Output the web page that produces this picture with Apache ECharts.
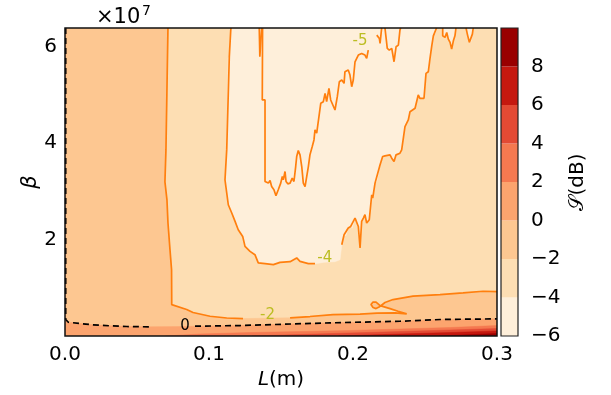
<!DOCTYPE html>
<html><head><meta charset="utf-8">
<script src="https://cdn.jsdelivr.net/npm/echarts@6/dist/echarts.min.js"></script>
<style>html,body{margin:0;padding:0;background:#fff}#c{width:611px;height:395px}</style>
</head><body><div id="c"></div>
<script>
// ---- axes / ticks ----
const X_TICKS = [0, 0.1, 0.2, 0.3];
const Y_TICKS = [2, 4, 6];          // ×1e7
const Y_MAX = 6.39;                 // ×1e7
const CBAR_TICKS = [-6, -4, -2, 0, 2, 4, 6, 8];
const LEVELS = [-6, -4, -2, 0, 2, 4, 6, 8, 10];
const LEVEL_COLORS = ['#feefda', '#fddeb3', '#fdc791', '#fca46e', '#f57950', '#e34a34', '#c5180f', '#990000'];

// ---- contour -2 (L [m], beta [1e7]) ----
const M2_LINE_A = [[0.0715,6.39],[0.0701,3.861],[0.0694,3.199],[0.0708,2.826],[0.0715,2.350],[0.0729,1.791],[0.0740,1.377],[0.0741,0.756],[0.0741,0.652],[0.0750,0.631],[0.0845,0.549],[0.0889,0.487],[0.1007,0.410],[0.1123,0.373],[0.1236,0.362]];
const M2_GAP = [[0.1458,0.373]];
const M2_LINE_B = [[0.1563,0.377],[0.1701,0.404],[0.1861,0.445],[0.2049,0.455],[0.2167,0.476],[0.2292,0.480],[0.2373,0.460],[0.2313,0.513],[0.2257,0.569],[0.2188,0.631],[0.2160,0.704],[0.2139,0.704],[0.2125,0.652],[0.2139,0.590],[0.2160,0.569],[0.2181,0.600],[0.2188,0.631],[0.2222,0.694],[0.2278,0.756],[0.2417,0.828],[0.2604,0.859],[0.2764,0.894],[0.2903,0.928],[0.3,0.921]];

// ---- contour 0 (dashed) ----
const ZERO_LINE_A = [[0.0005,6.39],[0.0005,0.342],[0.0023,0.286],[0.0104,0.259],[0.0194,0.232],[0.0313,0.211],[0.0428,0.197],[0.0590,0.190]];
const ZERO_GAP = [[0.0833,0.197]];
const ZERO_LINE_B = [[0.0903,0.203],[0.1215,0.217],[0.1840,0.273],[0.2326,0.306],[0.2604,0.342],[0.3,0.356]];

// ---- bottom bands (upper boundaries) ----
const BAND_2_4 = [[0.07,0],[0.0938,0.041],[0.1285,0.072],[0.1632,0.093],[0.1979,0.114],[0.2326,0.145],[0.2674,0.176],[0.3,0.217],[0.3,0]];
const BAND_4_6 = [[0.13,0],[0.1632,0.031],[0.1979,0.062],[0.2326,0.093],[0.2674,0.124],[0.3,0.155],[0.3,0]];
const BAND_6_8 = [[0.19,0],[0.2326,0.041],[0.2674,0.072],[0.3,0.104],[0.3,0]];
const BAND_8_10 = [[0.26,0],[0.3,0.052],[0.3,0]];

// ---- contour -4 ----
const M4_LINE_A = [[0.1153,6.39],[0.1151,6.346],[0.1141,5.793],[0.1134,5.766],[0.1123,3.861],[0.1111,3.240],[0.1134,2.723],[0.1158,2.551],[0.1181,2.377],[0.1203,2.205],[0.1234,2.066],[0.1250,1.859],[0.1285,1.756],[0.1319,1.687],[0.1342,1.516],[0.1389,1.501],[0.1447,1.480],[0.1493,1.528],[0.1563,1.542],[0.1609,1.619],[0.1632,1.549],[0.1690,1.501],[0.1736,1.501]];
const M4_GAP = [[0.1806,1.532],[0.1875,1.542],[0.1910,1.584]];
const M4_LINE_B = [[0.1922,1.894],[0.1938,2.101],[0.1951,2.081],[0.1967,2.240],[0.1984,2.273],[0.1995,2.240],[0.2014,2.447],[0.2026,2.427],[0.2037,2.273],[0.2049,1.826],[0.2060,2.377],[0.2072,2.447],[0.2083,2.516],[0.2095,2.344],[0.2113,2.412],[0.2130,2.930],[0.2137,2.861],[0.2153,3.172],[0.2165,3.205],[0.2188,3.551],[0.2206,3.723],[0.2222,3.737],[0.2257,3.758],[0.2269,3.689],[0.2285,3.619],[0.2299,3.758],[0.2326,3.793],[0.2338,3.861],[0.2361,4.344],[0.2384,4.482],[0.2396,4.654],[0.2431,4.725],[0.2453,5.000],[0.2465,4.932],[0.2493,4.932],[0.2507,5.449],[0.2523,5.482],[0.2535,5.766],[0.2547,6.021],[0.2558,6.228],[0.2569,6.263],[0.2580,6.39]];
const M4_V1 = [[0.2623,6.39],[0.2623,6.228],[0.2639,6.195],[0.2651,6.298],[0.2662,6.159],[0.2674,6.091],[0.2685,5.952],[0.2697,6.124],[0.2708,6.228],[0.2715,6.39]];
const M4_V2 = [[0.2785,6.39],[0.2794,6.263],[0.2808,6.091],[0.2818,6.091],[0.2829,6.263],[0.2835,6.39]];

// ---- contour -5 ----
const M5_A = [[0.1349,6.39],[0.1353,5.793],[0.1365,5.793],[0.1366,6.39]];
const M5_B = [[0.1372,6.39],[0.1370,4.897],[0.1389,4.897],[0.1389,3.205],[0.1412,3.172],[0.1424,3.226],[0.1435,3.101],[0.1451,3.033],[0.1465,2.909],[0.1481,3.033],[0.1498,3.172],[0.1509,3.308],[0.1516,3.240],[0.1528,3.412],[0.1535,3.205],[0.1547,3.157],[0.1563,3.172],[0.1578,3.275],[0.1590,3.205],[0.1602,3.516],[0.1609,3.723],[0.1620,3.847],[0.1632,3.758],[0.1644,3.516],[0.1655,3.172],[0.1667,3.101],[0.1678,3.137],[0.1690,3.516],[0.1701,3.758],[0.1717,3.930],[0.1729,4.068],[0.1736,4.275],[0.1748,4.207],[0.1776,4.828],[0.1794,4.861],[0.1806,5.035],[0.1817,4.861],[0.1833,5.139],[0.1845,4.897],[0.1875,4.689],[0.1891,4.965],[0.1905,5.275],[0.1922,5.311],[0.1938,5.242],[0.1944,5.482],[0.1967,5.518],[0.1979,5.414],[0.1991,5.172],[0.2002,5.311],[0.2014,5.689],[0.2037,5.828],[0.2060,5.863],[0.2072,5.897],[0.2083,5.828],[0.2095,5.760],[0.2106,5.932]];
const M5_C = [[0.2165,6.242],[0.2183,6.174],[0.2188,6.070],[0.2199,6.39]];
const M5_D = [[0.2222,6.39],[0.2229,6.207],[0.2238,5.967],[0.2252,5.932],[0.2269,5.967],[0.2285,5.690],[0.2299,6.0],[0.2315,6.035],[0.2326,6.346],[0.2331,6.39]];

// ---- contour labels ----
const CLABEL_POS = [[0.2049,6.118],[0.1804,1.625],[0.1406,0.424],[0.0833,0.197]];
const CLABEL_TEXT = ['-5', '-4', '-2', '0'];
const CLABEL_COLOR = ['#bcbd22', '#bcbd22', '#bcbd22', '#000000'];

// ---- build ----
const FONT = 'DejaVu Sans';
const X_MAX = X_TICKS[X_TICKS.length - 1];
const REGIONS = [
  { pts: [[0, Y_MAX]].concat(M2_LINE_A, M2_GAP, M2_LINE_B, [[X_MAX, 0], [0, 0]]), color: LEVEL_COLORS[2] },
  { pts: [[0, 0]].concat(ZERO_LINE_A, ZERO_GAP, ZERO_LINE_B, [[X_MAX, 0]]), color: LEVEL_COLORS[3] },
  { pts: BAND_2_4, color: LEVEL_COLORS[4] },
  { pts: BAND_4_6, color: LEVEL_COLORS[5] },
  { pts: BAND_6_8, color: LEVEL_COLORS[6] },
  { pts: BAND_8_10, color: LEVEL_COLORS[7] },
  { pts: M4_LINE_A.concat(M4_GAP, M4_LINE_B), color: LEVEL_COLORS[0] },
  { pts: M4_V1, color: LEVEL_COLORS[0] },
  { pts: M4_V2, color: LEVEL_COLORS[0] }
];
const ORANGE = '#ff7f0e';
const LINES = [
  { pts: M2_LINE_A, color: ORANGE, dash: 'solid' },
  { pts: M2_LINE_B, color: ORANGE, dash: 'solid' },
  { pts: M4_LINE_A, color: ORANGE, dash: 'solid' },
  { pts: M4_LINE_B, color: ORANGE, dash: 'solid' },
  { pts: M4_V1, color: ORANGE, dash: 'solid' },
  { pts: M4_V2, color: ORANGE, dash: 'solid' },
  { pts: M5_A, color: ORANGE, dash: 'solid' },
  { pts: M5_B, color: ORANGE, dash: 'solid' },
  { pts: M5_C, color: ORANGE, dash: 'solid' },
  { pts: M5_D, color: ORANGE, dash: 'solid' },
  { pts: ZERO_LINE_A, color: '#000', dash: [6, 4] },
  { pts: ZERO_LINE_B, color: '#000', dash: [6, 4] }
];

const series = [];
REGIONS.forEach(r => {
  series.push({
    type: 'custom', xAxisIndex: 0, yAxisIndex: 0, data: [[0, 0]], clip: true, silent: true, z: 2,
    renderItem: (params, api) => ({
      type: 'polygon',
      shape: { points: r.pts.map(p => api.coord(p)) },
      style: { fill: r.color, stroke: r.color, lineWidth: 0.5 }
    })
  });
});
LINES.forEach(l => {
  series.push({
    type: 'line', xAxisIndex: 0, yAxisIndex: 0, data: l.pts, showSymbol: false, symbol: 'none', silent: true, z: 5,
    lineStyle: { color: l.color, width: 1.7, type: l.dash }
  });
});
// contour labels
series.push({
  type: 'custom', xAxisIndex: 0, yAxisIndex: 0, silent: true, z: 6, clip: false,
  data: CLABEL_POS.map((p, i) => [p[0], p[1], i]),
  renderItem: (params, api) => {
    const i = params.dataIndex;
    const c = api.coord([api.value(0), api.value(1)]);
    return { type: 'text', x: c[0], y: c[1], style: { text: CLABEL_TEXT[i], fill: CLABEL_COLOR[i], font: '15px "' + FONT + '"', align: 'center', verticalAlign: 'middle' } };
  }
});
// plot frame
series.push({
  type: 'custom', xAxisIndex: 0, yAxisIndex: 0, silent: true, z: 10, clip: false, data: [[0, 0]],
  renderItem: (params, api) => {
    const a = api.coord([0, 0]), b = api.coord([X_MAX, Y_MAX]);
    return { type: 'rect', shape: { x: a[0], y: b[1], width: b[0] - a[0], height: a[1] - b[1] }, style: { fill: 'none', stroke: '#111', lineWidth: 1.5 } };
  }
});
// colorbar
series.push({
  type: 'custom', xAxisIndex: 1, yAxisIndex: 1, silent: true, z: 2, clip: false,
  data: LEVEL_COLORS.map((c, i) => [LEVELS[i], LEVELS[i + 1], i]),
  renderItem: (params, api) => {
    const a = api.coord([0, api.value(0)]), b = api.coord([1, api.value(1)]);
    return { type: 'rect', shape: { x: a[0], y: b[1], width: b[0] - a[0], height: a[1] - b[1] }, style: { fill: LEVEL_COLORS[api.value(2)] } };
  }
});
series.push({
  type: 'custom', xAxisIndex: 1, yAxisIndex: 1, silent: true, z: 10, clip: false, data: [[0, 0]],
  renderItem: (params, api) => {
    const a = api.coord([0, LEVELS[0]]), b = api.coord([1, LEVELS[LEVELS.length - 1]]);
    return { type: 'rect', shape: { x: a[0], y: b[1], width: b[0] - a[0], height: a[1] - b[1] }, style: { fill: 'none', stroke: '#222', lineWidth: 1.2 } };
  }
});

const minus = v => (v < 0 ? '\u2212' + (-v) : String(v));
const option = {
  animation: false,
  backgroundColor: '#fff',
  textStyle: { fontFamily: FONT },
  graphic: [
    { type: 'text', x: 96, y: 18, style: { text: '\u00d710', font: '21px "' + FONT + '"', fill: '#000', verticalAlign: 'middle' } },
    { type: 'text', x: 142, y: 11, style: { text: '7', font: '14px "' + FONT + '"', fill: '#000', verticalAlign: 'middle' } }
  ],
  grid: [
    { left: 65, top: 28, width: 432, height: 308, show: true, backgroundColor: LEVEL_COLORS[1], borderWidth: 0 },
    { left: 501, top: 28, width: 17, height: 308 }
  ],
  xAxis: [
    {
      gridIndex: 0, type: 'value', min: 0, max: X_MAX, interval: 0.1,
      axisLine: { show: false }, axisTick: { show: false }, splitLine: { show: false },
      axisLabel: { fontSize: 20, color: '#000', margin: 9, fontFamily: FONT,
        formatter: v => X_TICKS.some(t => Math.abs(t - v) < 1e-9) ? v.toFixed(1) : '' },
      name: '{i|L}(m)', nameLocation: 'middle', nameGap: 30,
      nameTextStyle: { fontSize: 20, color: '#000', fontFamily: FONT,
        rich: { i: { fontSize: 20, fontStyle: 'italic', fontFamily: FONT, color: '#000' } } }
    },
    { gridIndex: 1, type: 'value', min: 0, max: 1, show: false }
  ],
  yAxis: [
    {
      gridIndex: 0, type: 'value', min: 0, max: Y_MAX, interval: 2,
      axisLine: { show: false }, axisTick: { show: false }, splitLine: { show: false },
      axisLabel: { fontSize: 20, color: '#000', margin: 8, fontFamily: FONT,
        formatter: v => Y_TICKS.includes(v) ? String(v) : '' },
      name: '\u03b2', nameLocation: 'middle', nameGap: 24, nameRotate: 90, nameMoveOverlap: false,
      nameTextStyle: { fontSize: 21, fontStyle: 'italic', color: '#000', fontFamily: FONT }
    },
    {
      gridIndex: 1, type: 'value', position: 'right', min: LEVELS[0], max: LEVELS[LEVELS.length - 1], interval: 2,
      axisLine: { show: false }, axisTick: { show: false }, splitLine: { show: false },
      axisLabel: { fontSize: 20, color: '#000', margin: 13, fontFamily: FONT,
        formatter: v => CBAR_TICKS.includes(v) ? minus(v) : '' },
      name: '\ud835\udcae(dB)', nameLocation: 'middle', nameGap: 50, nameRotate: 90,
      nameTextStyle: { fontSize: 20, color: '#000', fontFamily: FONT }
    }
  ],
  series: series
};
const chart = echarts.init(document.getElementById('c'), null, { renderer: 'canvas' });
chart.setOption(option);
</script>
</body></html>
